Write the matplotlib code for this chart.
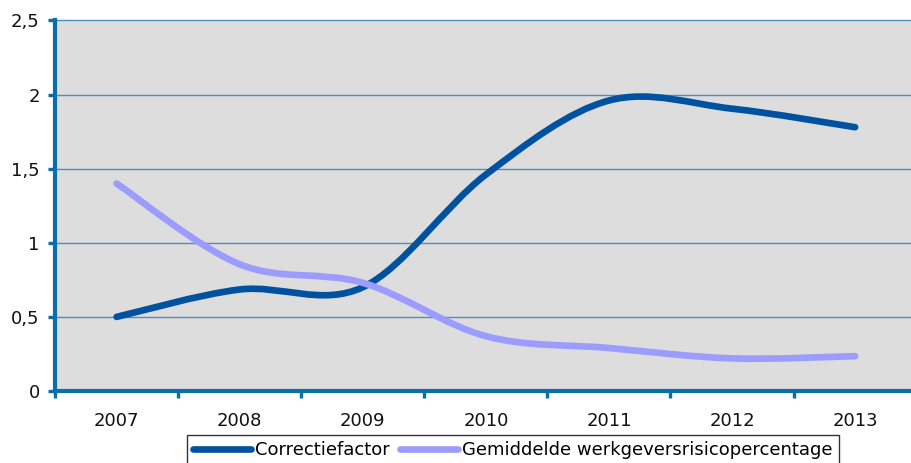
import matplotlib
matplotlib.use("Agg")
import matplotlib.pyplot as plt
from matplotlib.path import Path
from matplotlib.patches import PathPatch
from matplotlib.lines import Line2D
import numpy as np

years = ["2007", "2008", "2009", "2010", "2011", "2012", "2013"]
correctiefactor = [0.50, 0.685, 0.70, 1.46, 1.96, 1.905, 1.78]
gemiddelde = [1.40, 0.855, 0.73, 0.37, 0.29, 0.22, 0.235]
y_ticks = [0, 0.5, 1, 1.5, 2, 2.5]
y_labels = ["0", "0,5", "1", "1,5", "2", "2,5"]
series_names = ["Correctiefactor", "Gemiddelde werkgeversrisicopercentage"]

C_DARK = "#0052A1"
C_LIGHT = "#9C9CFF"
C_AXIS = "#0A6EA8"
C_GRID = "#4A8FC0"
FS = 13

plt.rcParams['font.family'] = ['DejaVu Sans']

fig = plt.figure(figsize=(9.12, 4.63), dpi=100)
ax = fig.add_axes([55/912, (463-391)/463, 861.7/912, 370.5/463])
ax.set_facecolor("#DDDDDD")


def smooth_path(xs, ys):
    pts = np.column_stack([xs, ys]).astype(float)
    n = len(pts)
    verts = [pts[0]]
    codes = [Path.MOVETO]
    for i in range(n - 1):
        p0 = pts[i - 1] if i > 0 else pts[i]
        p1 = pts[i]
        p2 = pts[i + 1]
        p3 = pts[i + 2] if i + 2 < n else pts[i + 1]
        c1 = p1 + (p2 - p0) / 6.0
        c2 = p2 - (p3 - p1) / 6.0
        verts += [c1, c2, p2]
        codes += [Path.CURVE4] * 3
    return Path(verts, codes)


xpos = np.arange(len(years))
for vals, col in [(correctiefactor, C_DARK), (gemiddelde, C_LIGHT)]:
    patch = PathPatch(smooth_path(xpos, vals), fill=False, edgecolor=col,
                      linewidth=4.8, capstyle='round', joinstyle='round', zorder=3)
    ax.add_patch(patch)

ax.set_xlim(-0.5, len(years) - 0.5)
ax.set_ylim(0, 2.5)

ax.set_yticks(y_ticks)
ax.set_yticklabels(y_labels)
ax.yaxis.grid(True, color=C_GRID, linewidth=1.0, clip_on=False)
ax.set_axisbelow(True)

ax.set_xticks(np.arange(-0.5, len(years)))
ax.set_xticklabels([])
ax.set_xticks(xpos, minor=True)
ax.set_xticklabels(years, minor=True)
ax.tick_params(axis='x', which='major', direction='out', length=5, width=2.4, color=C_AXIS)
ax.tick_params(axis='x', which='minor', length=0, pad=15, labelsize=FS, labelcolor='#111111')
ax.tick_params(axis='y', direction='out', length=5, width=2.4, color=C_AXIS,
               pad=6, labelsize=FS, labelcolor='#111111')

for s in ['top', 'right']:
    ax.spines[s].set_visible(False)
for s in ['left', 'bottom']:
    ax.spines[s].set_color(C_AXIS)
    ax.spines[s].set_linewidth(3.0)

handles = [Line2D([0], [0], color=C_DARK, lw=4.8, solid_capstyle='round'),
           Line2D([0], [0], color=C_LIGHT, lw=4.8, solid_capstyle='round')]
leg = fig.legend(handles, series_names, loc='upper left',
                 bbox_to_anchor=(187/912, 1 - 435/463), borderaxespad=0,
                 ncol=2, fontsize=FS, frameon=True, fancybox=False,
                 handlelength=3.2, handletextpad=0.2, columnspacing=0.6,
                 borderpad=0.35)
leg.get_frame().set_edgecolor('black')
leg.get_frame().set_linewidth(1.0)
leg.get_frame().set_facecolor('white')

fig.savefig("out.png", dpi=100)
